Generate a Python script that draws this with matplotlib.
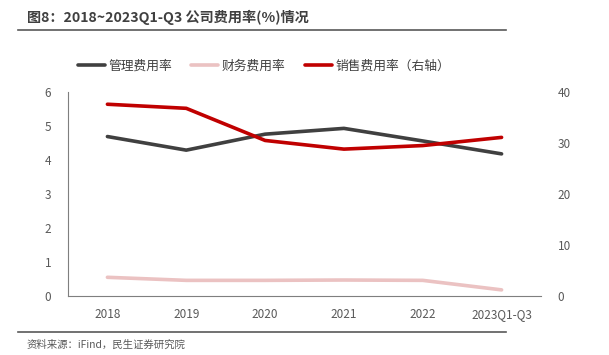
import matplotlib
matplotlib.use("Agg")
import matplotlib.pyplot as plt
from matplotlib.lines import Line2D

plt.rcParams['font.family'] = ['Noto Sans CJK SC', 'DejaVu Sans']

categories = ["2018", "2019", "2020", "2021", "2022", "2023Q1-Q3"]
mgmt_rate = [4.69, 4.29, 4.76, 4.93, 4.56, 4.18]
fin_rate = [0.55, 0.46, 0.46, 0.47, 0.46, 0.18]
sales_rate = [37.6, 36.8, 30.5, 28.8, 29.5, 31.1]
left_ticks = [0, 1, 2, 3, 4, 5, 6]
right_ticks = [0, 10, 20, 30, 40]

title = "图8：2018~2023Q1-Q3 公司费用率(%)情况"
source = "资料来源：iFind，民生证券研究院"
labels = ["管理费用率", "财务费用率", "销售费用率（右轴）"]

c_mgmt = "#404040"
c_fin = "#EBC2C2"
c_sales = "#C00000"
c_tick = "#595959"

W, H = 609, 355
fig = plt.figure(figsize=(W / 100, H / 100), dpi=100)
ax = fig.add_axes([68 / W, 1 - 296 / H, (541 - 68) / W, (296 - 92) / H])
ax2 = ax.twinx()

x = list(range(len(categories)))
l1, = ax.plot(x, mgmt_rate, color=c_mgmt, lw=2.6, solid_capstyle='round')
l2, = ax.plot(x, fin_rate, color=c_fin, lw=2.6, solid_capstyle='round')
l3, = ax2.plot(x, sales_rate, color=c_sales, lw=2.6, solid_capstyle='round')

ax.set_xlim(-0.5, len(categories) - 0.5)
ax.set_ylim(0, 6)
ax2.set_ylim(0, 40)
ax.set_yticks(left_ticks)
ax2.set_yticks(right_ticks)
ax.set_xticks(x)
ax.set_xticklabels(categories)

for a in (ax, ax2):
    for s in ("top", "right"):
        a.spines[s].set_visible(False)
    a.tick_params(length=0, labelsize=8.5, colors=c_tick)
ax2.spines["left"].set_visible(False)
ax2.spines["bottom"].set_visible(False)
ax.spines["left"].set_color("#7F7F7F")
ax.spines["bottom"].set_color("#7F7F7F")
ax.tick_params(axis='y', pad=12)
ax.tick_params(axis='x', pad=9)
ax2.tick_params(axis='y', pad=12)

fig.legend([l1, l2, l3], labels, loc="center", bbox_to_anchor=(264 / W, 1 - 66 / H),
           ncol=3, frameon=False, fontsize=9.2, handlelength=2.1, handletextpad=0.3,
           columnspacing=1.5, labelcolor="#404040")

fig.text(27 / W, 1 - 17 / H, title, fontsize=10.2, fontweight='bold', color="#404040",
         va="center", ha="left")
fig.add_artist(Line2D([18 / W, 506 / W], [1 - 30 / H, 1 - 30 / H], color="#595959", lw=1.2))
fig.add_artist(Line2D([18 / W, 506 / W], [1 - 332 / H, 1 - 332 / H], color="#595959", lw=1.2))
fig.text(27 / W, 1 - 345 / H, source, fontsize=7.5, color="#595959", va="center", ha="left")

fig.savefig("out.png", dpi=100)
